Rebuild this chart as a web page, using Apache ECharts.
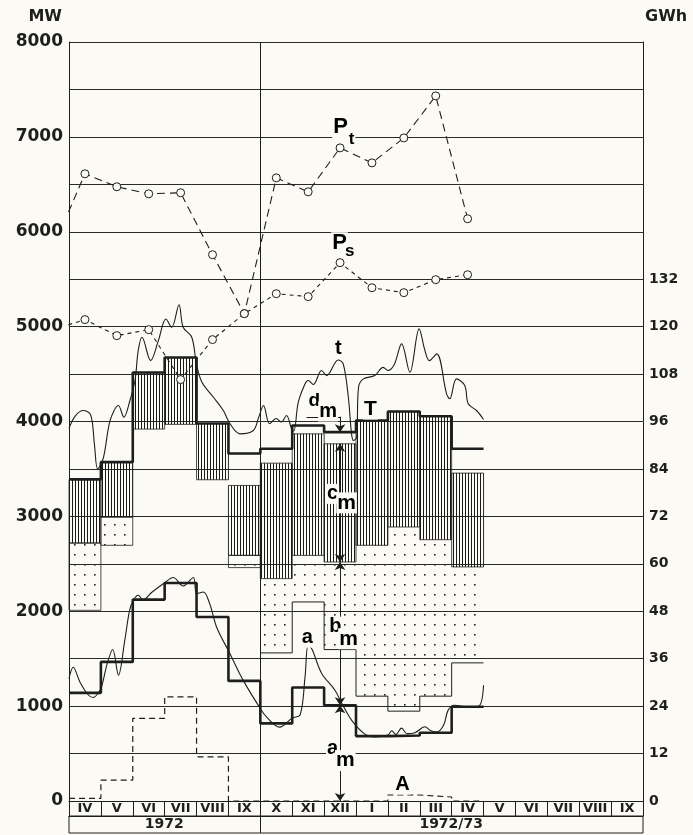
<!DOCTYPE html>
<html><head><meta charset="utf-8">
<script src="https://cdn.jsdelivr.net/npm/echarts@6/dist/echarts.min.js"></script>
<style>html,body{margin:0;padding:0;background:#fbfaf5}#c{width:693px;height:835px}</style>
</head><body><div id="c"></div>
<script>
// ---------- DATA ----------
const months = ['IV','V','VI','VII','VIII','IX','X','XI','XII','I','II','III','IV','V','VI','VII','VIII','IX'];
const years = ['1972','1972/73'];
const yearCenters = [3, 12];
const rightLabelMax = 132;

// monthly values, IV 1972 .. IV 1973 (13 months), MW
const totalT      = [3390,3572,4516,4674,3979,3663,3712,3958,3888,4011,4105,4056,3712];
const baseA       = [1140,1466,2123,2298,1940,1266, 818,1197,1010, 684, 690, 719, 993];
const hatchTop    = [3390,3572,4516,4674,3979,3326,3561,3870,3765,4011,4105,4056,3456];
const hatchBottom = [2719,2993,3920,3970,3386,2589,2344,2589,2519,2695,2888,2754,2467];
const dotBottom   = [2010,2695,null,null,null,2460,1561,2098,1596,1105, 947,1105,1456];
const importA     = [  28, 221, 870,1098, 466,   0,   0,   0,   0,   0,  63,  42,   0];

// peak loads at month centres, III 1972 .. IV 1973 (first point lies before the plot)
const peakPt = [5830,6611,6474,6400,6411,5758,5137,6568,6421,6884,6726,6989,7432,6137];
const peakPs = [4968,5074,4905,4968,4442,4863,5137,5347,5316,5674,5410,5358,5495,5547];

// daily curves (month units from start of IV 1972, MW)
const curveTu = [0,0.2,0.45,0.68,0.8,0.9,1.08,1.29,1.55,1.72,1.91,2.07,2.17,2.29,2.56,2.8,3.04,3.22,3.45,3.58,3.85,4.0,4.17,4.53,4.84,5.05,5.36,5.78,5.95,6.1,6.29,6.5,6.66,6.82,6.98,7.05,7.19,7.4,7.5,7.66,7.92,8.08,8.44,8.6,8.76,8.86,8.92,9.02,9.08,9.23,9.59,9.85,10.0,10.2,10.43,10.69,10.98,11.16,11.3,11.53,11.84,11.94,12.15,12.41,12.52,12.78,13.0];
const curveTv = [3930,4060,4116,4070,3750,3500,3620,4011,4168,4046,4221,4432,4747,4888,4642,4850,5081,4993,5230,4993,4888,4600,4414,4256,4116,3976,3870,3905,4046,4168,3977,4032,3995,4063,3923,3900,4203,4396,4432,4390,4537,4484,4649,4607,4256,3870,3800,3835,4361,4449,4484,4571,4537,4600,4818,4519,4976,4750,4642,4713,4291,4239,4449,4379,4186,4116,4021];
const curveAu = [0,0.13,0.35,0.6,0.76,0.9,1.02,1.2,1.37,1.55,1.75,1.9,2.02,2.17,2.32,2.6,3.0,3.27,3.58,3.9,4.0,4.21,4.41,4.63,5.04,5.46,5.99,6.2,6.6,7.0,7.25,7.4,7.5,7.62,7.92,8.34,8.55,8.86,9.28,9.59,10.0,10.12,10.25,10.43,10.6,10.85,11.16,11.35,11.53,11.75,11.89,12.1,12.5,12.85,13.0];
const curveAv = [1290,1410,1250,1120,1091,1130,1203,1450,1597,1326,1695,2010,2116,2168,2120,2200,2300,2355,2266,2355,2186,2203,2081,1832,1558,1274,979,884,779,874,910,1300,1642,1600,1347,1168,1032,853,705,674,695,740,700,768,710,720,782,740,726,800,958,1010,990,1000,1221];

// ---------- helpers ----------
const ink = '#1e1e1e', bg = '#fbfaf5';
function steps(vals, start){
  const out=[];
  vals.forEach((v,i)=>{ if(v==null){out.push([start+i,'-']);return;} out.push([start+i,v],[start+i+1,v]); });
  return out;
}
function mkPattern(w,h,draw){const c=document.createElement('canvas');c.width=w;c.height=h;draw(c.getContext('2d'));return {image:c,repeat:'repeat'};}
const hatchFill = mkPattern(3,3,g=>{g.fillStyle='#1a1a1a';g.fillRect(0,0,1,3);});
const dotFill = mkPattern(10,10,g=>{g.fillStyle='#222';g.fillRect(4,4,1.6,1.6);});

function band(data, fill, stroke){
  return {type:'custom', xAxisIndex:0, yAxisIndex:0, silent:true, z:1, data,
    renderItem:(p,api)=>{
      const i=api.value(0), lo=api.value(1), hi=api.value(2);
      const a=api.coord([i,hi]), b=api.coord([i+1,lo]);
      return {type:'rect', shape:{x:a[0],y:a[1],width:b[0]-a[0],height:b[1]-a[1]},
        style:{fill, stroke: stroke?ink:null, lineWidth:0.8}};
    }};
}
const hatchData = hatchTop.map((h,i)=>[i, hatchBottom[i], h]);
const dotSummer = [], dotWinter = [];
dotBottom.forEach((b,i)=>{ if(b==null) return; (i<6?dotSummer:dotWinter).push([i,b,hatchBottom[i]]); });

const ptData = peakPt.map((v,i)=>[i-0.5, v]);
const psData = peakPs.map((v,i)=>[i-0.5, v]);
const tData = curveTu.map((u,i)=>[u, curveTv[i]]);
const aData = curveAu.map((u,i)=>[u, curveAv[i]]);

// annotation labels: [text, u, MW, size]
const ann = [
  ['P',8.53,7095,22],['t',8.88,6965,17],
  ['P',8.5,5874,22],['s',8.82,5790,17],
  ['t',8.46,4768,20],
  ['d',7.71,4215,19],['m',8.14,4100,20],
  ['T',9.47,4126,21],
  ['c',8.28,3232,20],['m',8.72,3137,21],
  ['b',8.37,1832,20],['m',8.78,1705,21],
  ['a',7.49,1716,20],
  ['a',8.28,547,20],['m',8.68,421,21],
  ['A',10.47,168,20]
];
const xm = 8.5; // month centre of XII 1972 for dimension lines

const font = 'DejaVu Sans';
const lineSt = {color:ink, width:1};

const option = {
  backgroundColor: bg,
  animation:false,
  grid:[
    {left:69, top:42, width:574, height:759},
    {left:69, top:801, width:574, height:15},
    {left:69, top:816, width:574, height:17, show:true, borderColor:ink, borderWidth:1, backgroundColor:'transparent'}
  ],
  xAxis:[
    {gridIndex:0, type:'value', min:0, max:18, axisLine:{show:true, onZero:false, lineStyle:lineSt}, axisTick:{show:false}, axisLabel:{show:false}, splitLine:{show:false}},
    {gridIndex:1, type:'category', data:months, boundaryGap:true,
      axisLine:{show:true, lineStyle:lineSt},
      axisTick:{show:true, inside:true, length:15, interval:0, lineStyle:lineSt},
      axisLabel:{inside:true, margin:1, interval:0, fontFamily:font, fontWeight:'bold', fontSize:13, color:ink},
      splitLine:{show:false}},
    {gridIndex:2, type:'value', min:0, max:18, show:false}
  ],
  yAxis:[
    {gridIndex:0, type:'value', min:0, max:8000, interval:500, position:'left',
      name:'MW', nameLocation:'end', nameGap:17,
      nameTextStyle:{fontFamily:font, fontWeight:'bold', fontSize:16, color:ink, align:'right', verticalAlign:'bottom', padding:[0,7,0,0]},
      axisLine:{show:true, lineStyle:lineSt}, axisTick:{show:false},
      axisLabel:{margin:6, fontFamily:font, fontWeight:'bold', fontSize:17, color:ink, formatter:v=>v%1000===0?String(v):''},
      splitLine:{show:true, lineStyle:{color:'#2a2a2a', width:1}}},
    {gridIndex:0, type:'value', min:0, max:192, interval:12, position:'right',
      name:'GWh', nameLocation:'end', nameGap:17,
      nameTextStyle:{fontFamily:font, fontWeight:'bold', fontSize:16, color:ink, align:'left', verticalAlign:'bottom', padding:[0,0,0,2]},
      axisLine:{show:true, lineStyle:lineSt}, axisTick:{show:false},
      axisLabel:{margin:6, fontFamily:font, fontWeight:'bold', fontSize:14, color:ink, formatter:v=>v<=rightLabelMax?String(v):''},
      splitLine:{show:false}},
    {gridIndex:1, type:'value', show:false},
    {gridIndex:2, type:'value', min:0, max:1, show:false}
  ],
  series:[
    band(hatchData, hatchFill, true),
    band(dotSummer, dotFill, true),
    band(dotWinter, dotFill, false),
    {type:'line', name:'bBottom', data:steps(dotBottom.slice(6),6), symbol:'none', lineStyle:{color:ink,width:1}, z:3, silent:true},
    {type:'line', name:'T', data:steps(totalT,0), symbol:'none', lineStyle:{color:ink,width:2.6}, z:4, silent:true,
      markLine:{silent:true, symbol:['arrow','arrow'], symbolSize:8, label:{show:false}, lineStyle:{color:ink,width:1,type:'solid'},
        data:[
          [{coord:[7.45,4050],symbol:'none'},{coord:[xm,4050],symbol:'none'}],
          [{coord:[xm,4050],symbol:'none'},{coord:[xm,totalT[8]],symbol:'arrow'}],
          [{coord:[xm,hatchTop[8]]},{coord:[xm,hatchBottom[8]]}],
          [{coord:[xm,hatchBottom[8]]},{coord:[xm,baseA[8]]}],
          [{coord:[xm,baseA[8]]},{coord:[xm,0]}]
        ]}},
    {type:'line', name:'a', data:steps(baseA,0), symbol:'none', lineStyle:{color:ink,width:2.6}, z:4, silent:true},
    {type:'line', name:'A', data:steps(importA,0), symbol:'none', lineStyle:{color:ink,width:1.2,type:[6,4]}, z:3, silent:true},
    {type:'line', name:'t', data:tData, smooth:0.35, symbol:'none', lineStyle:{color:ink,width:1.1}, z:5, silent:true},
    {type:'line', name:'acurve', data:aData, smooth:0.35, symbol:'none', lineStyle:{color:ink,width:1.1}, z:5, silent:true},
    {type:'line', name:'Pt', data:ptData, symbol:'circle', symbolSize:8, showAllSymbol:true,
      itemStyle:{color:bg, borderColor:ink, borderWidth:1}, lineStyle:{color:ink,width:1.1,type:[8,5]}, z:6, silent:true},
    {type:'line', name:'Ps', data:psData, symbol:'circle', symbolSize:8, showAllSymbol:true,
      itemStyle:{color:bg, borderColor:ink, borderWidth:1}, lineStyle:{color:ink,width:1.1,type:[4,4]}, z:6, silent:true},
    {type:'scatter', name:'ann', symbolSize:1, itemStyle:{opacity:0}, silent:true, z:8,
      data: ann.map(a=>({value:[a[1],a[2]], label:{fontSize:a[3]}})),
      label:{show:true, position:[0,0], align:'center', verticalAlign:'middle', color:'#000', opacity:1,
        textBorderWidth:0, fontFamily:'Liberation Sans', fontWeight:'bold',
        backgroundColor:bg, padding:[0,1,0,1], formatter:p=>ann[p.dataIndex][0]}},
    {type:'line', name:'divider', data:[[6,0]], symbol:'none', lineStyle:{width:0}, silent:true,
      markLine:{silent:true, symbol:['none','none'], label:{show:false}, lineStyle:{color:ink,width:1,type:'solid'}, data:[{xAxis:6}]}},
    {type:'scatter', name:'years', xAxisIndex:2, yAxisIndex:3, symbolSize:1, itemStyle:{opacity:0}, silent:true, z:8,
      data: yearCenters.map(c=>[c,0.5]),
      label:{show:true, position:[0,0], align:'center', verticalAlign:'middle', color:ink, opacity:1, textBorderWidth:0, fontFamily:font, fontWeight:'bold', fontSize:14, formatter:p=>years[p.dataIndex]},
      markLine:{silent:true, symbol:['none','none'], label:{show:false}, lineStyle:{color:ink,width:1,type:'solid'}, data:[{xAxis:6}]}}
  ]
};
const chart = echarts.init(document.getElementById('c'), null, {renderer:'canvas'});
chart.setOption(option);
</script>
</body></html>
